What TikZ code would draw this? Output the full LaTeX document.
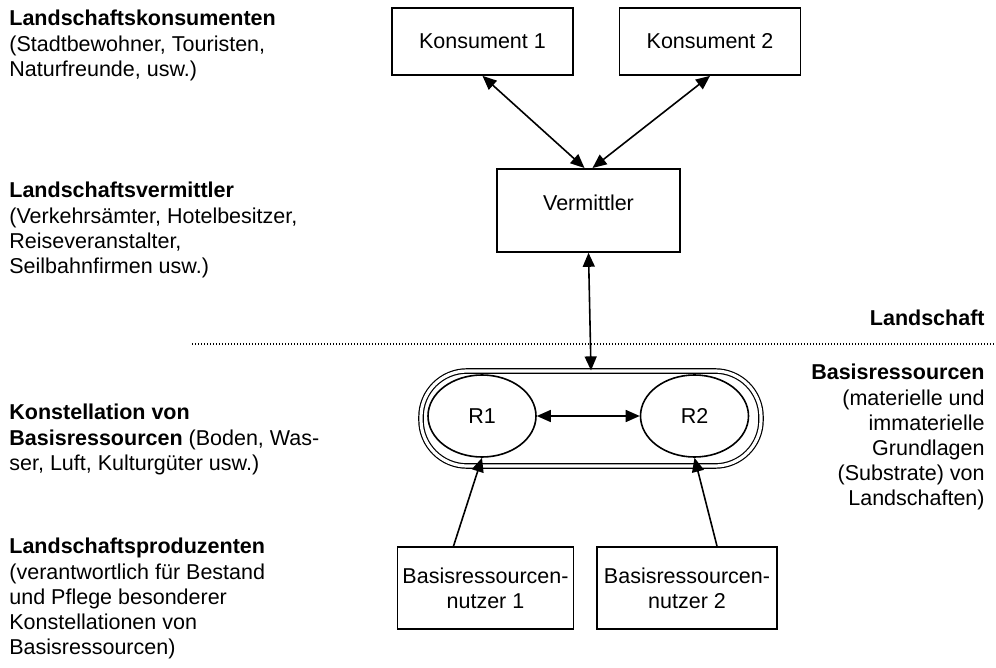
\documentclass[tikz,border=0pt]{standalone}
\usepackage{fontspec}
\setmainfont{Liberation Sans}
\usetikzlibrary{positioning}
\usetikzlibrary{arrows.meta}
\usetikzlibrary{shapes.geometric}
\newcommand{\fs}{\fontsize{10.75}{12.6}\selectfont}

\begin{document}
\begin{tikzpicture}[x=0.5pt,y=-0.5pt,
    box/.style={draw,line width=0.9pt,inner sep=0pt,font=\fs,align=center},
    res/.style={ellipse,draw,line width=0.8pt,inner sep=0pt,font=\fs,minimum width=54pt,minimum height=41pt},
    txt/.style={inner sep=0pt,font=\fs,align=left},
    arr/.style={line width=0.8pt,{Triangle[length=7pt,width=6pt]}-{Triangle[length=7pt,width=6pt]}},
    arrone/.style={line width=0.8pt,-{Triangle[length=7pt,width=6pt]}}]
    \useasboundingbox (0,0) rectangle (996,668);
    % Konsumenten und Vermittler
    \node[box,minimum width=90.5pt,minimum height=33.5pt] (kons1) at (482.5,41.5) {Konsument 1};
    \node[box,minimum width=90.5pt,minimum height=33.5pt] (kons2) at (710,41.5) {Konsument 2};
    \node[box,minimum width=91.5pt,text height=21pt,text depth=20.5pt,anchor=north] (verm) at (588.5,168) {Vermittler};
    % Basisressourcen
    \node[draw,line width=0.6pt,double,double distance=1.6pt,rounded corners=23pt,
          minimum width=170pt,minimum height=47.5pt] (pill) at (591,418.5) {};
    \node[res] (r1) at (482,416) {R1};
    \node[res] (r2) at (694.5,416) {R2};
    % Produzenten
    \node[box,minimum width=88pt,minimum height=41pt] (nutz1) at (485.5,588) {Basisressourcen-\\nutzer 1};
    \node[box,minimum width=90pt,minimum height=41pt] (nutz2) at (687,588) {Basisressourcen-\\nutzer 2};
    % Grenze Landschaft
    \coordinate (grenzeL) at (192,344);
    \coordinate (grenzeR) at (996,344);
    \draw[line width=0.6pt,dash pattern=on 0.6pt off 0.9pt] (grenzeL) -- (grenzeR);
    % Pfeile
    \draw[arr] (kons1.south) -- ([xshift=-2pt]verm.north);
    \draw[arr] (kons2.south) -- ([xshift=2pt]verm.north);
    \draw[arr] (verm.south) -- (pill.north);
    \draw[arr] (r1.east) -- (r2.west);
    \draw[arrone] ([xshift=-16pt]nutz1.north) -- (r1.south);
    \draw[arrone] ([xshift=15pt]nutz2.north) -- (r2.south);
    % Beschriftungen links
    \node[txt,anchor=north west] (konsTxt) at (9,10) {\textbf{Landschaftskonsumenten}\\(Stadtbewohner, Touristen,\\Naturfreunde, usw.)};
    \node[txt,anchor=north west] (vermTxt) at (9,182) {\textbf{Landschaftsvermittler}\\(Verkehrsämter, Hotelbesitzer,\\Reiseveranstalter,\\Seilbahnfirmen usw.)};
    \node[txt,anchor=north west] (konstTxt) at (9,404) {\textbf{Konstellation von}\\\textbf{Basisressourcen} (Boden, Was-\\ser, Luft, Kulturgüter usw.)};
    \node[txt,anchor=north west] (prodTxt) at (9,538) {\textbf{Landschaftsproduzenten}\\(verantwortlich für Bestand\\und Pflege besonderer\\Konstellationen von\\Basisressourcen)};
    % Beschriftungen rechts
    \node[txt,anchor=east] (landTxt) at (985,318) {\textbf{Landschaft}};
    \node[txt,align=right,anchor=north east] (basisTxt) at (985,364) {\textbf{Basisressourcen}\\(materielle und\\immaterielle\\Grundlagen\\(Substrate) von\\Landschaften)};
\end{tikzpicture}
\end{document}
